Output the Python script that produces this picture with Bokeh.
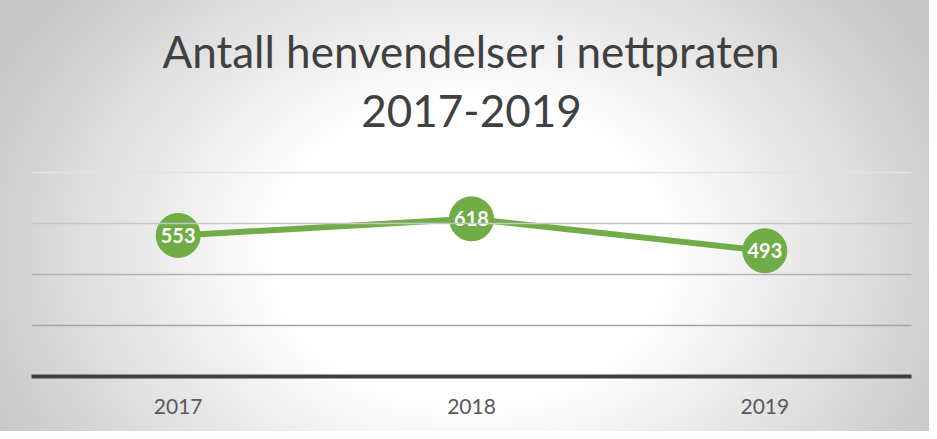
from bokeh.plotting import figure
from bokeh.models import ColumnDataSource, Range1d, Span, Label, InlineStyleSheet
from bokeh.embed import file_html
from bokeh.resources import INLINE
from bokeh.core.properties import value

# ---- data ----
years = ["2017", "2018", "2019"]
counts = [553, 618, 493]
grid_values = [200, 400, 600, 800]
title_lines = ["Antall henvendelser i nettpraten", "2017-2019"]

# ---- styles ----
GREEN = "#70ad47"
TITLE_COLOR = "#404040"
grid_colors = ["#a4a4a4", "#b2b2b2", "#c6c6c6", "#e2e2e2"]
FONT = "Lato"

src = ColumnDataSource(dict(year=years, count=counts, label=[str(c) for c in counts]))

p = figure(width=929, height=431, x_range=years, y_range=Range1d(0, 1474),
           output_backend="svg", toolbar_location=None, y_axis_location=None,
           min_border_left=31, min_border_right=18, min_border_top=0,
           min_border_bottom=55)

p.stylesheets = [InlineStyleSheet(css=":host { background: radial-gradient(ellipse 520px 400px at 470px 252px, #ffffff 0%, #ffffff 38%, #c8c8c8 100%); }")]
p.background_fill_alpha = 0
p.border_fill_alpha = 0
p.outline_line_color = None
p.xgrid.visible = False
p.ygrid.visible = False

for v, c in zip(grid_values, grid_colors):
    p.add_layout(Span(location=v, dimension="width", line_color=c, line_width=1.5))

xa = p.xaxis[0]
xa.axis_line_width = 4
xa.axis_line_color = "#404040"
xa.major_tick_line_color = None
xa.minor_tick_line_color = None
xa.major_label_text_font = FONT
xa.major_label_text_font_size = "21px"
xa.major_label_text_color = "#595959"
xa.major_label_standoff = 16

p.line(x="year", y="count", source=src, line_color=GREEN, line_width=6)
p.scatter(x="year", y="count", source=src, size=44, fill_color=GREEN, line_color=GREEN)
p.text(x="year", y="count", text="label", source=src, text_align="center",
       text_baseline="middle", text_color="white", text_font=value(FONT),
       text_font_style="bold", text_font_size="20px")

p.add_layout(Label(x=440, y=326, x_units="screen", y_units="screen", text=title_lines[0],
                   text_align="center", text_baseline="alphabetic", text_font=FONT,
                   text_font_size="44px", text_color=TITLE_COLOR))
p.add_layout(Label(x=440, y=266, x_units="screen", y_units="screen", text=title_lines[1],
                   text_align="center", text_baseline="alphabetic", text_font=FONT,
                   text_font_size="44px", text_color=TITLE_COLOR))

open("out.html", "w").write(file_html(p, INLINE))
